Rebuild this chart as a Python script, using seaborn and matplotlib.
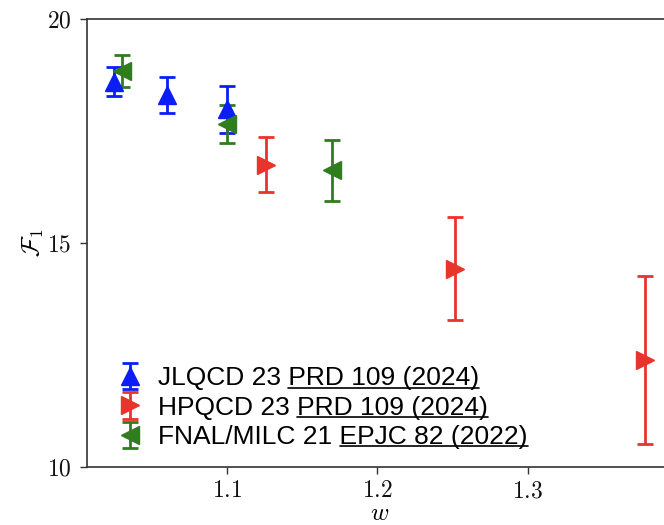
import numpy as np
import pandas as pd
import seaborn as sns
import matplotlib
matplotlib.use("Agg")
import matplotlib.pyplot as plt
from matplotlib.lines import Line2D

# ---- data ----
jlqcd_w = [1.025, 1.060, 1.100]
jlqcd_f = [18.60, 18.30, 17.98]
jlqcd_e = [0.32, 0.40, 0.53]

hpqcd_w = [1.126, 1.252, 1.378]
hpqcd_f = [16.75, 14.43, 12.39]
hpqcd_e = [0.61, 1.15, 1.88]

fnal_w = [1.030, 1.100, 1.170]
fnal_f = [18.84, 17.66, 16.62]
fnal_e = [0.36, 0.42, 0.68]

labels_main = ["JLQCD 23 ", "HPQCD 23 ", "FNAL/MILC 21 "]
labels_ref = ["PRD 109 (2024)", "PRD 109 (2024)", "EPJC 82 (2022)"]

xticks = [1.1, 1.2, 1.3]
xticklabels = [r"$1.1$", r"$1.2$", r"$1.3$"]
yticks = [10, 15, 20]
yticklabels = [r"$10$", r"$15$", r"$20$"]

colors = ["#0a1ef5", "#e8342a", "#2f7d1f"]
markers = ["^", ">", "<"]

sns.set_theme(style="ticks")
plt.rcParams["mathtext.fontset"] = "cm"
plt.rcParams["font.family"] = ["Liberation Sans", "DejaVu Sans"]
plt.rcParams["text.color"] = "black"
plt.rcParams["axes.labelcolor"] = "black"
plt.rcParams["xtick.labelcolor"] = "#111111"
plt.rcParams["ytick.labelcolor"] = "#111111"

fig = plt.figure(figsize=(6.64, 5.25), dpi=100)
ax = fig.add_axes([87 / 664, 58 / 525, (672 - 87) / 664, 448 / 525])

series = [(jlqcd_w, jlqcd_f, jlqcd_e), (hpqcd_w, hpqcd_f, hpqcd_e), (fnal_w, fnal_f, fnal_e)]
for (w, f, e), c, m, lm, lr in zip(series, colors, markers, labels_main, labels_ref):
    df = pd.DataFrame({"w": w, "F": f, "err": e})
    ax.errorbar(df["w"], df["F"], yerr=df["err"], fmt=m, color=c, ms=13,
                elinewidth=2.0, capsize=6, capthick=2.0, label=lm + lr)

ax.set_xlim(1.007, 1.396)
ax.set_ylim(10, 20)
ax.set_xticks(xticks)
ax.set_xticklabels(xticklabels)
ax.set_yticks(yticks)
ax.set_yticklabels(yticklabels)
ax.tick_params(axis="both", labelsize=17, length=5, width=1.0, color="#333333", pad=6)
ax.tick_params(axis="x", pad=4.5)
for s in ax.spines.values():
    s.set_color("#333333")
    s.set_linewidth(1.2)
ax.set_xlabel(r"$w$", fontsize=18, labelpad=-1.2)
ax.set_ylabel(r"$\mathcal{F}_1$", fontsize=18, labelpad=1)

leg = ax.legend(loc="lower left", bbox_to_anchor=(0.02, -0.001), frameon=False,
                fontsize=19, handlelength=1.0, handletextpad=0.55,
                labelspacing=0.2, borderaxespad=0.3)
for t in leg.get_texts():
    t.set_color("black")

# underline the reference part of each legend entry
fig.canvas.draw()
renderer = fig.canvas.get_renderer()
for t, lr in zip(leg.get_texts(), labels_ref):
    bb = t.get_window_extent(renderer)
    wref, href, dref = renderer.get_text_width_height_descent(lr, t.get_fontproperties(), ismath=False)
    _, _, dfull = renderer.get_text_width_height_descent(t.get_text(), t.get_fontproperties(), ismath=False)
    y = bb.y0 + dfull - 2.5
    x0, x1 = bb.x1 - wref, bb.x1
    fig.add_artist(Line2D([x0 / fig.bbox.width, x1 / fig.bbox.width],
                          [y / fig.bbox.height, y / fig.bbox.height],
                          transform=fig.transFigure, color="black", lw=1.2))

fig.savefig("out.png", dpi=100)
